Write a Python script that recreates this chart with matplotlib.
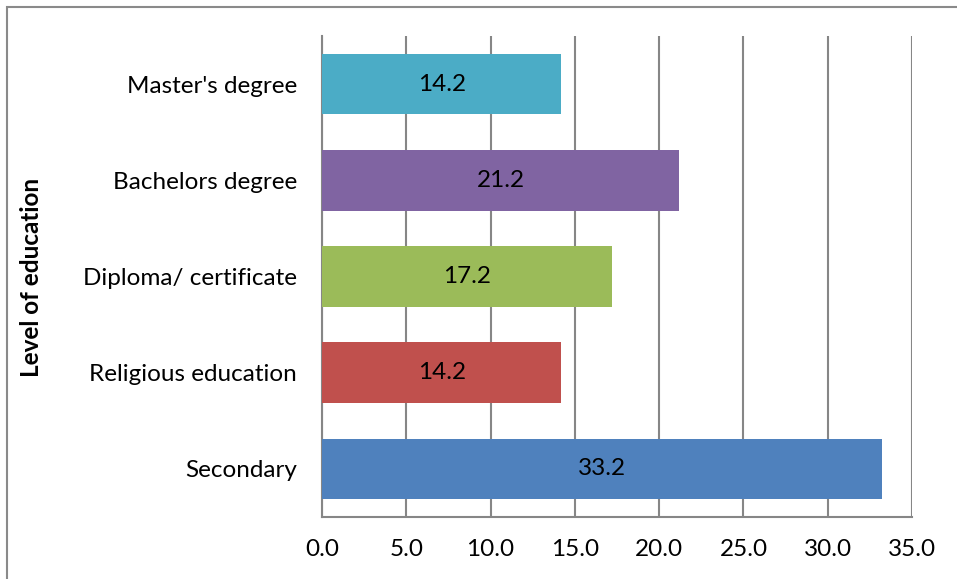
import matplotlib
matplotlib.use("Agg")
import matplotlib.pyplot as plt
from matplotlib.patches import Rectangle

# education levels, bottom to top
levels = ["Secondary", "Religious education", "Diploma/ certificate",
          "Bachelors degree", "Master's degree"]
percent = [33.2, 14.2, 17.2, 21.2, 14.2]
colors = ["#4F81BD", "#C0504D", "#9BBB59", "#8064A2", "#4BACC6"]
xticks = [0, 5, 10, 15, 20, 25, 30, 35]

plt.rcParams['font.family'] = ['Lato', 'DejaVu Sans']
fs = 17.5

fig = plt.figure(figsize=(9.57, 5.79), dpi=100)
ax = fig.add_axes([0.3365, 0.1071, 0.953 - 0.3365, 0.9378 - 0.1071])

# chart frame
fig.patches.append(Rectangle((7 / 957, -0.1), 1.2, 1 - 7 / 579 + 0.1,
                             transform=fig.transFigure, fill=False,
                             edgecolor="#8a8a8a", linewidth=1.5))

ypos = range(len(levels))
bars = ax.barh(ypos, percent, height=0.63, color=colors, zorder=3)
for b, v in zip(bars, percent):
    ax.text(v / 2, b.get_y() + b.get_height() / 2, f"{v:.1f}",
            ha="center", va="center", fontsize=fs, color="black", zorder=4)

ax.set_xlim(0, 35)
ax.set_ylim(-0.5, len(levels) - 0.5)
ax.set_xticks(xticks)
ax.set_xticklabels([f"{t:.1f}" for t in xticks], fontsize=fs)
ax.set_yticks(list(ypos))
ax.set_yticklabels(levels, fontsize=fs)
ax.tick_params(axis="x", length=0, pad=16)
ax.tick_params(axis="y", length=0, pad=18)

ax.grid(axis="x", color="#868686", linewidth=1.5, zorder=0)
for s in ["top", "right"]:
    ax.spines[s].set_visible(False)
for s in ["left", "bottom"]:
    ax.spines[s].set_color("#868686")
    ax.spines[s].set_linewidth(1.5)

fig.text(32 / 957, 1 - 277 / 579, "Level of education", rotation=90,
         ha="center", va="center", fontsize=fs, fontweight="bold")

fig.savefig("out.png", dpi=100)
